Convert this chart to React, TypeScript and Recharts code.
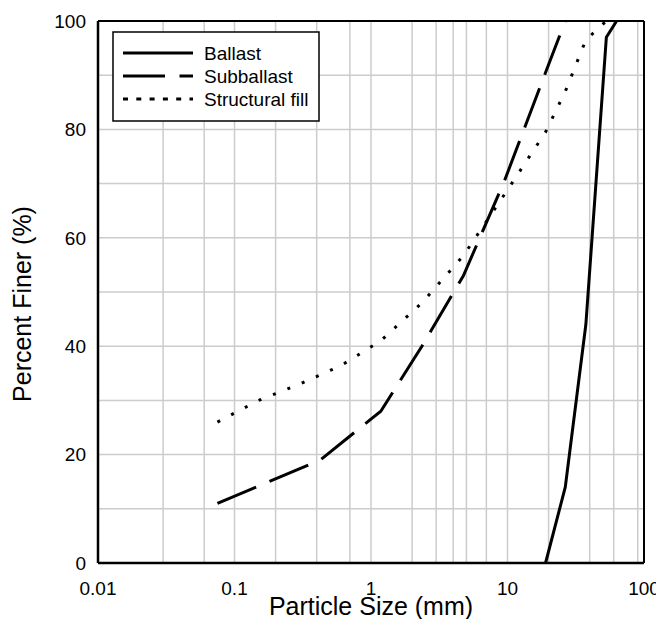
import React from 'react';
import { LineChart, Line, XAxis, YAxis, CartesianGrid, ReferenceLine } from 'recharts';

// grain size distribution data (size in mm, percent finer)
const ballastSize = [19, 26.5, 37.5, 53, 63];
const ballastPct = [0, 14, 44, 97, 100];

const subballastSize = [0.075, 0.425, 1.18, 2.36, 4.75, 9.5, 19, 26.5];
const subballastPct = [11, 19, 28, 40, 53, 70.5, 90.5, 100];

const fillSize = [0.075, 0.15, 0.3, 0.6, 1.18, 2.36, 4.75, 9.5, 19, 26.5, 37.5, 53];
const fillPct = [26, 30, 33, 36.4, 41, 48, 56.7, 68, 79.5, 87, 96.5, 100];

const xTicks = [0.01, 0.1, 1, 10, 100];
const yTicks = [0, 20, 40, 60, 80, 100];
const decades = [0.01, 0.1, 1, 10];
const minorSteps = [1, 2, 3, 4, 5, 6, 7, 8, 9];
const yGrid = [10, 20, 30, 40, 50, 60, 70, 80, 90];

const gridX: number[] = [];
decades.forEach((d) => minorSteps.forEach((m) => gridX.push(+(d * m).toPrecision(3))));

const toPoints = (sizes: number[], pcts: number[]) =>
  sizes.map((s, i) => ({ size: s, pct: pcts[i] }));

const series = [
  { name: 'Ballast', data: toPoints(ballastSize, ballastPct), dash: undefined, legendDash: undefined },
  { name: 'Subballast', data: toPoints(subballastSize, subballastPct), dash: '42 14.5', legendDash: '42 14.5' },
  { name: 'Structural fill', data: toPoints(fillSize, fillPct), dash: '3 12.5', legendDash: '5 8.3' },
];

const FONT = '"Liberation Sans", Arial, sans-serif';

const XTitle = ({ viewBox }: any) => (
  <text
    x={viewBox.x + viewBox.width / 2}
    y={viewBox.y + 52}
    textAnchor="middle"
    fontSize={25}
    fontFamily={FONT}
    fill="#000"
  >
    Particle Size (mm)
  </text>
);

const YTitle = () => (
  <text
    x={23}
    y={296}
    transform="rotate(-90, 23, 296)"
    textAnchor="middle"
    fontSize={25}
    fontFamily={FONT}
    fill="#000"
  >
    Percent Finer (%)
  </text>
);

const LegendBox = () => (
  <svg
    width={208}
    height={91}
    style={{ position: 'absolute', left: 104, top: 23 }}
  >
    <rect x={1} y={1} width={206} height={89} fill="#fff" stroke="#000" strokeWidth={1.5} />
    {series.map((s, i) => (
      <g key={s.name}>
        <line
          x1={11}
          x2={81}
          y1={22 + i * 23}
          y2={22 + i * 23}
          stroke="#000"
          strokeWidth={3}
          strokeDasharray={s.legendDash}
        />
        <text x={92} y={22 + i * 23 + 7} fontSize={19} fontFamily={FONT} fill="#000">
          {s.name}
        </text>
      </g>
    ))}
  </svg>
);

const App: React.FC = () => {
  return (
    <div style={{ position: 'relative', width: 656, height: 611 }}>
      <LineChart width={656} height={611} margin={{ top: 13, right: 20, left: 0, bottom: 0 }}>
        <CartesianGrid
          stroke="#cccccc"
          strokeWidth={1.5}
          verticalValues={gridX}
          horizontalValues={yGrid}
        />
        <XAxis
          dataKey="size"
          type="number"
          scale="log"
          domain={[0.01, 100]}
          ticks={xTicks}
          allowDataOverflow
          height={56}
          tickLine={false}
          tickSize={0}
          tickMargin={19}
          axisLine={{ stroke: '#000', strokeWidth: 2.5 }}
          tick={{ fill: '#000', fontSize: 19, fontFamily: FONT }}
          label={{ content: XTitle }}
        />
        <YAxis
          type="number"
          domain={[0, 100]}
          ticks={yTicks}
          width={90}
          tickLine={false}
          tickSize={0}
          tickMargin={12}
          axisLine={{ stroke: '#000', strokeWidth: 2.5 }}
          tick={{ fill: '#000', fontSize: 19, fontFamily: FONT }}
          label={{ content: YTitle }}
        />
        <ReferenceLine y={100} stroke="#000" strokeWidth={2} />
        <ReferenceLine x={100} stroke="#000" strokeWidth={2} />
        {series.map((s) => (
          <Line
            key={s.name}
            data={s.data}
            dataKey="pct"
            name={s.name}
            type="linear"
            stroke="#000"
            strokeWidth={3}
            strokeDasharray={s.dash}
            dot={false}
            activeDot={false}
            isAnimationActive={false}
          />
        ))}
      </LineChart>
      <LegendBox />
    </div>
  );
};

export default App;
